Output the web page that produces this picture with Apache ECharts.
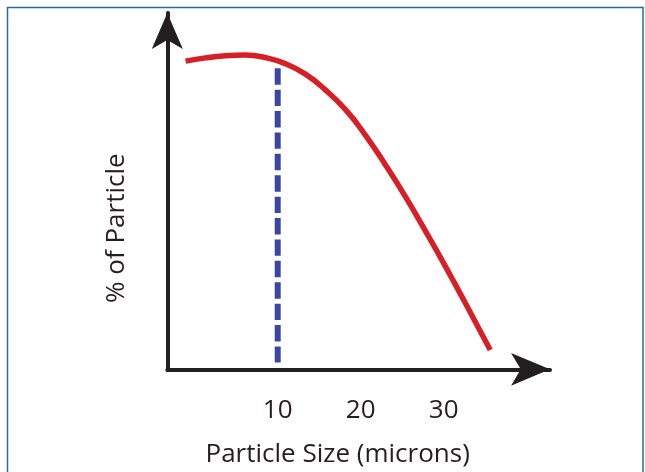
<!DOCTYPE html>
<html>
<head>
<meta charset="utf-8">
<script src="https://cdn.jsdelivr.net/npm/echarts@6/dist/echarts.min.js"></script>
<style>
html,body{margin:0;padding:0;background:#fff;}
#c{width:645px;height:472px;}
</style>
</head>
<body>
<div id="c"></div>
<script>
// Particle size (microns) and % of particle for the distribution curve
const sizeMicrons = [-1.1, 1.3, 3.7, 6.1, 8.5, 10.9, 13.3, 15.7, 18.2, 20.6, 23.0, 25.4, 27.8, 30.2, 32.6, 35.6];
const percentParticle = [86.5, 87.4, 88.0, 88.2, 87.5, 85.8, 82.9, 78.5, 72.8, 65.6, 57.3, 48.4, 38.8, 28.9, 18.6, 5.4];
// x-axis tick labels
const xTickValues = [10, 20, 30];
const xTickLabels = ['10', '20', '30'];
// vertical dashed cut-off line at 10 microns
const cutoffSize = 10;
const cutoffRange = [84.5, 1.9];

const FONT = 'Open Sans';
const TEXT = '#231f20';

const chart = echarts.init(document.getElementById('c'), null, {renderer: 'canvas'});

const curve = sizeMicrons.map((x, i) => [x, percentParticle[i]]);
const cutoff = cutoffRange.map(y => [cutoffSize, y]);

chart.setOption({
  animation: false,
  backgroundColor: '#ffffff',
  graphic: [{
    type: 'rect',
    silent: true,
    z: -1,
    shape: {x: 7.5, y: 7.5, width: 635.5, height: 490},
    style: {fill: 'none', stroke: '#2a6b9c', lineWidth: 1.5}
  }],
  grid: {
    left: 167.3, top: 13, width: 382.7, height: 356.3,
    containLabel: false,
    outerBoundsMode: 'none'
  },
  xAxis: {
    type: 'value',
    min: -3.3,
    max: 42.8,
    name: 'Particle Size (microns)',
    nameLocation: 'middle',
    nameGap: 72,
    nameTextStyle: {fontFamily: FONT, fontSize: 26, color: TEXT, padding: [0, 42, 0, 0]},
    axisLine: {
      show: true, onZero: false,
      symbol: ['none', 'arrow'],
      symbolSize: [24.5, 39],
      lineStyle: {color: TEXT, width: 4}
    },
    axisTick: {show: false},
    splitLine: {show: false},
    axisLabel: {
      customValues: xTickValues,
      formatter: v => xTickLabels[xTickValues.indexOf(v)],
      fontFamily: FONT, fontSize: 26, color: TEXT, margin: 28
    }
  },
  yAxis: {
    type: 'value',
    min: 0,
    max: 100,
    name: '% of Particle',
    nameLocation: 'middle',
    nameGap: 38,
    nameTextStyle: {fontFamily: FONT, fontSize: 26, color: TEXT, padding: [0, 74, 0, 0]},
    axisLine: {
      show: true, onZero: false,
      symbol: ['none', 'arrow'],
      symbolSize: [23.3, 36],
      lineStyle: {color: TEXT, width: 4}
    },
    axisTick: {show: false},
    splitLine: {show: false},
    axisLabel: {show: false}
  },
  series: [
    {
      type: 'line',
      data: cutoff,
      symbol: 'none',
      silent: true,
      z: 2,
      lineStyle: {color: '#3a47a1', width: 6, type: [16.4, 5], cap: 'butt'}
    },
    {
      type: 'line',
      data: curve,
      smooth: true,
      symbol: 'none',
      silent: true,
      z: 3,
      lineStyle: {color: '#d71f27', width: 5.5, cap: 'butt'}
    }
  ]
});
</script>
</body>
</html>
